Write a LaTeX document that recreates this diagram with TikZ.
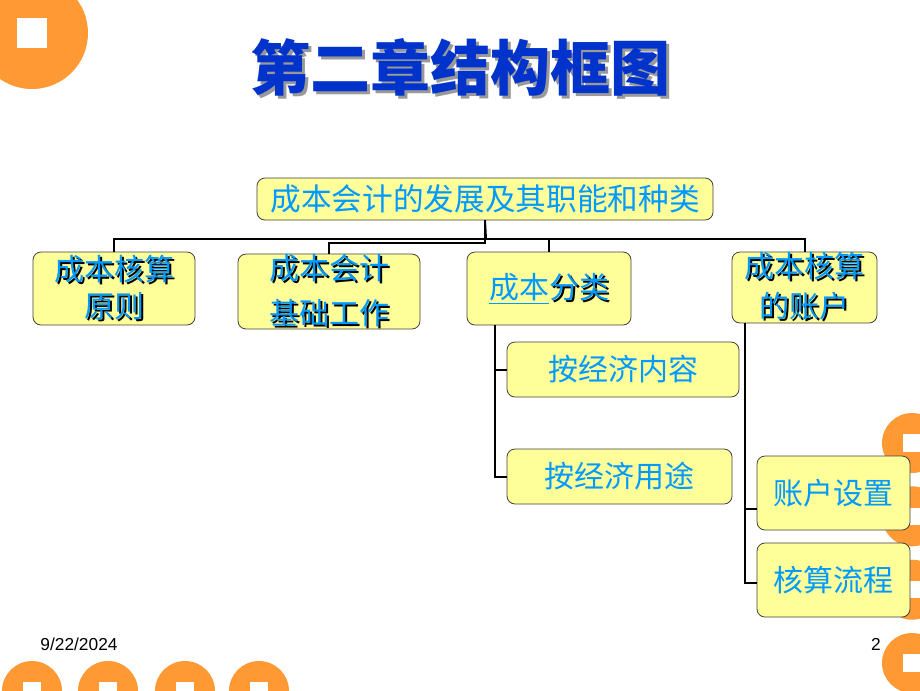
\documentclass[tikz,border=0pt]{standalone}
\usepackage{fontspec}
\setmainfont{Liberation Sans}
\newfontfamily\cjk{Noto Sans CJK SC}
\usepackage{tikz}
\usetikzlibrary{positioning}
\definecolor{kuangfill}{HTML}{FFFF99}
\definecolor{titleblue}{HTML}{0033CC}
\definecolor{textblue}{HTML}{0099FF}
\definecolor{coinorange}{HTML}{FF9933}
% blue text with a black shadow
\newcommand{\shtext}[1]{\makebox[0pt][l]{\hspace{1.5pt}\raisebox{-1.5pt}{\color{black}#1}}#1}
% title with a grey shadow
\newcommand{\shtitle}[1]{\makebox[0pt][l]{\hspace{2.5pt}\raisebox{-2.5pt}{\color{black!40}#1}}#1}
\tikzset{
  kuang/.style = {draw=black!75, line width=0.6pt, fill=kuangfill,
    rounded corners=6pt, align=center, inner sep=0pt, text=textblue,
    font=\cjk\fontsize{22.5}{28}\selectfont},
  box_top/.style = {kuang, minimum width=342pt, minimum height=31.5pt,
    font=\cjk\fontsize{23}{28}\selectfont},
  box_l1/.style = {kuang, minimum height=54.75pt},% first level
  box_l2/.style = {kuang, minimum height=41.25pt},% under cost classes
  box_l3/.style = {kuang, minimum width=114.75pt, minimum height=55.5pt},% under accounts
  lianxian/.style = {line width=1.5pt, black},
  coin/.style = {fill=coinorange, draw=none}
}

\begin{document}
\begin{tikzpicture}[x=0.75pt,y=-0.75pt]
\useasboundingbox (0,0) rectangle (920,690);
% coins
\fill[coin] (32,33) circle (42pt);
\fill[white] (32,33) +(-11.6pt,-11.6pt) rectangle +(11.6pt,11.6pt);
\foreach \cx in {32,108,185,259} {
  \fill[coin] (\cx,691) circle (22.5pt);
  \fill[white] (\cx,691) +(-6.4pt,-6.4pt) rectangle +(6.4pt,6.4pt);
}
\foreach \cy in {443,516.3,589.7,663} {
  \fill[coin] (912,\cy) circle (22.5pt);
  \fill[white] (912,\cy) +(-6.4pt,-6.4pt) rectangle +(6.4pt,6.4pt);
}

% title
\node[font=\cjk\bfseries\fontsize{45}{50}\selectfont, text=titleblue] (biaoti) at (460,69) {\shtitle{第二章结构框图}};

\node [box_top] (top) at (485,199) {成本会计的发展及其职能和种类};

\node [box_l1, minimum width=121.5pt] (b1) at (114,288.5) {\shtext{成本核算}\\\shtext{原则}};
\node [box_l1, minimum width=136.5pt, font=\cjk\fontsize{22.5}{34}\selectfont] (b2) at (329,291.5) {\shtext{成本会计}\\\shtext{基础工作}};
\node [box_l1, minimum width=123pt] (b3) at (549,288.5) {\underline{成本}\shtext{分类}};
\node [box_l1, minimum width=108.75pt, minimum height=53.25pt, font=\cjk\fontsize{22.5}{30}\selectfont] (b4) at (804.5,287.5) {\shtext{成本核算}\\\shtext{的账户}};

\node [box_l2, minimum width=174pt] (c1) at (623,369.5) {按经济内容};
\node [box_l2, minimum width=168.75pt] (c2) at (619.5,476.5) {按经济用途};

\node [box_l3] (d1) at (833.5,493) {账户设置};
\node [box_l3] (d2) at (833.5,580) {核算流程};

% connectors
\coordinate (fen) at (486,239);
\draw[lianxian] (top.south) -- (fen);
\draw[lianxian] (fen) -| (b1.north);
\draw[lianxian] (fen) -| (b3.north);
\draw[lianxian] (fen) -| (b4.north);
\draw[lianxian] (top.south) -- ++(0,23) -| (b2.north);

\coordinate (fenlei) at (495,325);
\draw[lianxian] (fenlei) |- (c1.west);
\draw[lianxian] (fenlei) |- (c2.west);

\coordinate (zhanghu) at (745,323);
\draw[lianxian] (zhanghu) |- ([yshift=-12pt]d1.west);
\draw[lianxian] (zhanghu) |- ([yshift=-2.25pt]d2.west);

% footer
\node[font=\fontsize{13}{15}\selectfont] (riqi) at (79,644) {9/22/2024};
\node[font=\fontsize{13}{15}\selectfont] (yema) at (876,644) {2};
\end{tikzpicture}
\end{document}
